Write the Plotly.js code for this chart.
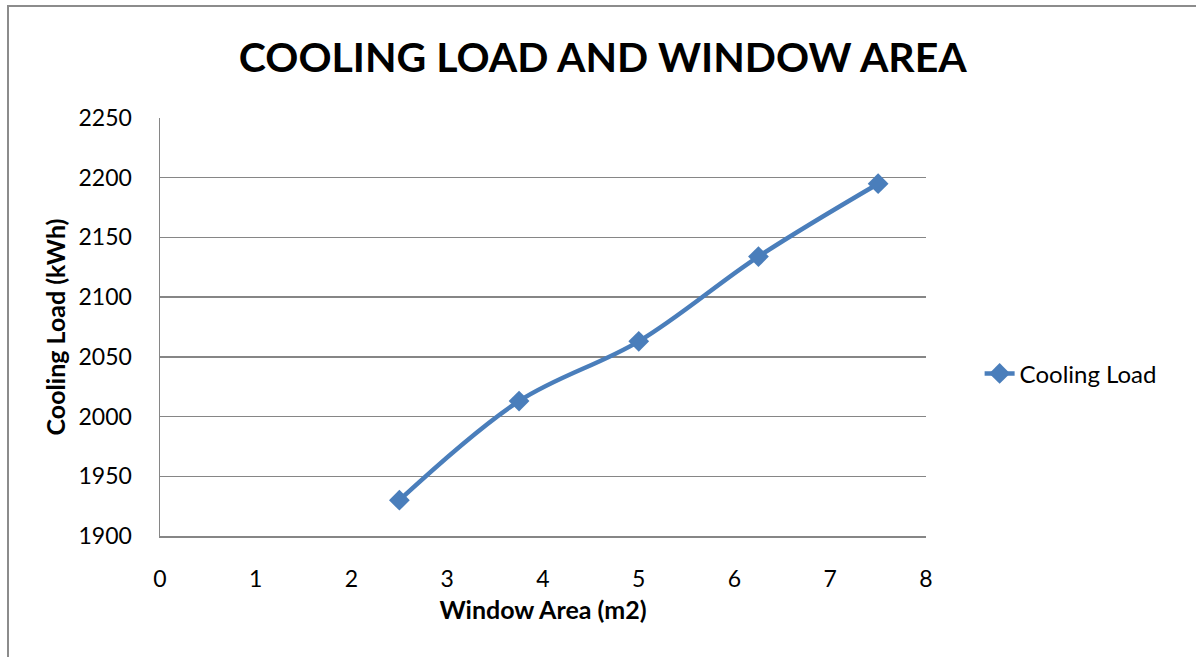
<!DOCTYPE html>
<html>
<head>
<meta charset="utf-8">
<script src="https://cdn.plot.ly/plotly-3.0.1.min.js"></script>
<style>
  html, body { margin: 0; padding: 0; background: #fff; }
  #wrap { position: relative; width: 1196px; height: 657px; overflow: hidden; }
  #chart { position: absolute; left: 0; top: 0; width: 1196px; height: 657px; }
  #frame { position: absolute; left: 7px; top: 5px; width: 1200px; height: 700px;
           border-left: 2px solid #8c8c8c; border-top: 2px solid #8c8c8c; pointer-events: none; }
</style>
</head>
<body>
<div id="wrap">
  <div id="chart"></div>
  <div id="frame"></div>
</div>
<script>
const seriesName = "Cooling Load";
const windowArea = [2.5, 3.75, 5, 6.25, 7.5];
const coolingLoad = [1930, 2013, 2063, 2134, 2195];
const xTicks = [0, 1, 2, 3, 4, 5, 6, 7, 8];
const yTicks = [1900, 1950, 2000, 2050, 2100, 2150, 2200, 2250];

const FONT = "Lato, 'Open Sans', sans-serif";

const trace = {
  x: windowArea,
  y: coolingLoad,
  name: seriesName,
  type: "scatter",
  mode: "lines+markers",
  line: { color: "#4a7ebb", width: 4.5, shape: "spline", smoothing: 1 },
  marker: { symbol: "diamond", size: 16, color: "#4a7ebb" }
};

const layout = {
  width: 1196,
  height: 657,
  paper_bgcolor: "#ffffff",
  plot_bgcolor: "#ffffff",
  margin: { l: 160, r: 270, t: 118, b: 121 },
  font: { family: FONT, color: "#000000", size: 23 },
  title: {
    text: "<b>COOLING LOAD AND WINDOW AREA</b>",
    font: { family: FONT, size: 41, color: "#000000" },
    x: 0.504, xanchor: "center",
    y: 0.912, yanchor: "middle"
  },
  showlegend: true,
  legend: {
    x: 1.07, xanchor: "left",
    y: 0.388, yanchor: "middle",
    font: { family: FONT, size: 24, color: "#000000" },
    bgcolor: "rgba(0,0,0,0)"
  },
  xaxis: {
    range: [0, 8],
    tickvals: xTicks,
    ticktext: xTicks.map(String),
    showgrid: false,
    zeroline: false,
    showline: true,
    linecolor: "#868686",
    linewidth: 1.5,
    ticks: "",
    ticklabelstandoff: 22,
    tickfont: { family: FONT, size: 23, color: "#000000" },
    title: {
      text: "<b>Window Area (m2)</b>",
      font: { family: FONT, size: 25, color: "#000000" },
      standoff: 10
    },
    fixedrange: true
  },
  yaxis: {
    range: [1900, 2250],
    tickvals: yTicks,
    ticktext: yTicks.map(String),
    showgrid: true,
    gridcolor: "#868686",
    gridwidth: 1.5,
    zeroline: false,
    showline: true,
    linecolor: "#868686",
    linewidth: 1.5,
    ticks: "",
    ticklabelstandoff: 22,
    tickfont: { family: FONT, size: 23, color: "#000000" },
    title: {
      text: "<b>Cooling Load (kWh)</b>",
      font: { family: FONT, size: 25, color: "#000000" },
      standoff: 6
    },
    fixedrange: true
  }
};

Plotly.newPlot("chart", [trace], layout, { displayModeBar: false, staticPlot: true });
</script>
</body>
</html>
